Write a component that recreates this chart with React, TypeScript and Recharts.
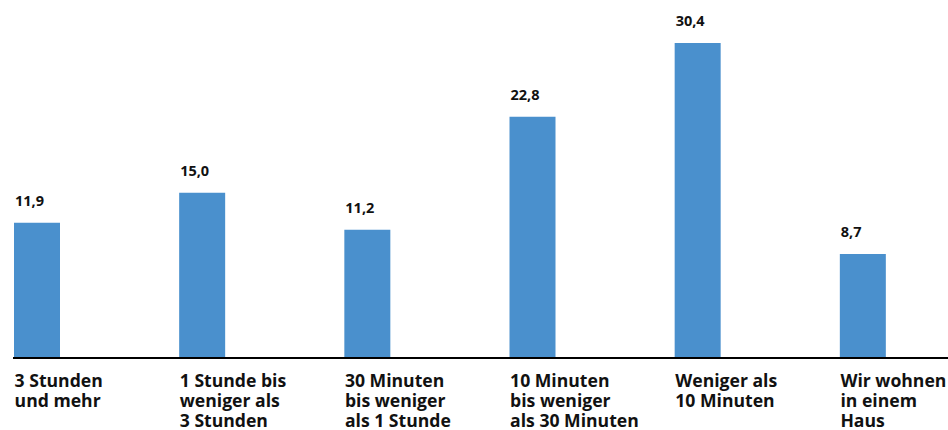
import { BarChart, Bar, XAxis, YAxis, LabelList } from 'recharts';

// categories split into the line breaks used under each bar
const categories = [
  ['3 Stunden', 'und mehr'],
  ['1 Stunde bis', 'weniger als', '3 Stunden'],
  ['30 Minuten', 'bis weniger', 'als 1 Stunde'],
  ['10 Minuten', 'bis weniger', 'als 30 Minuten'],
  ['Weniger als', '10 Minuten'],
  ['Wir wohnen', 'in einem', 'Haus'],
];
const values = [11.9, 15.0, 11.2, 22.8, 30.4, 8.7];

// the bars start a little below zero in the original
const AXIS_FLOOR = -2;
const AXIS_TOP = 32;

const data = categories.map((lines, i) => ({ key: String(i), lines, value: values[i] }));

const FONT = '"Open Sans", "DejaVu Sans", sans-serif';
const BAR_W = 46;

function CategoryTick(props: any) {
  const { x, y, payload } = props;
  const lines = data[payload.index]?.lines ?? [];
  return (
    <g>
      {lines.map((l: string, i: number) => (
        <text
          key={i}
          x={x - BAR_W / 2 + 1}
          y={y + 29 + i * 20.2}
          fontFamily={FONT}
          fontWeight={700}
          fontSize={17.6}
          fill="#111"
          textAnchor="start"
        >
          {l}
        </text>
      ))}
    </g>
  );
}

function ValueLabel(props: any) {
  const { x, y, value } = props;
  return (
    <text x={x + 1} y={y - 17} fontFamily={FONT} fontWeight={700} fontSize={14.5} fill="#111" textAnchor="start">
      {Number(value).toFixed(1).replace('.', ',')}
    </text>
  );
}

export default function App() {
  return (
    <div style={{ position: 'absolute', left: 0, top: 0, width: 948, height: 430, overflow: 'hidden', background: '#fff' }}>
      <BarChart width={948} height={430} data={data} margin={{ top: 27.4, right: 0, left: 13, bottom: 0 }}>
        <XAxis
          dataKey="key"
          height={72}
          padding={{ left: -59, right: 3 }}
          axisLine={{ stroke: '#000', strokeWidth: 2 }}
          tickLine={false}
          tickSize={0}
          tickMargin={0}
          interval={0}
          tick={<CategoryTick />}
        />
        <YAxis hide domain={[AXIS_FLOOR, AXIS_TOP]} allowDataOverflow />
        <Bar dataKey={(d: any) => [AXIS_FLOOR, d.value]} fill="#4A90CD" barSize={BAR_W} isAnimationActive={false}>
          <LabelList dataKey="value" content={<ValueLabel />} />
        </Bar>
      </BarChart>
    </div>
  );
}
